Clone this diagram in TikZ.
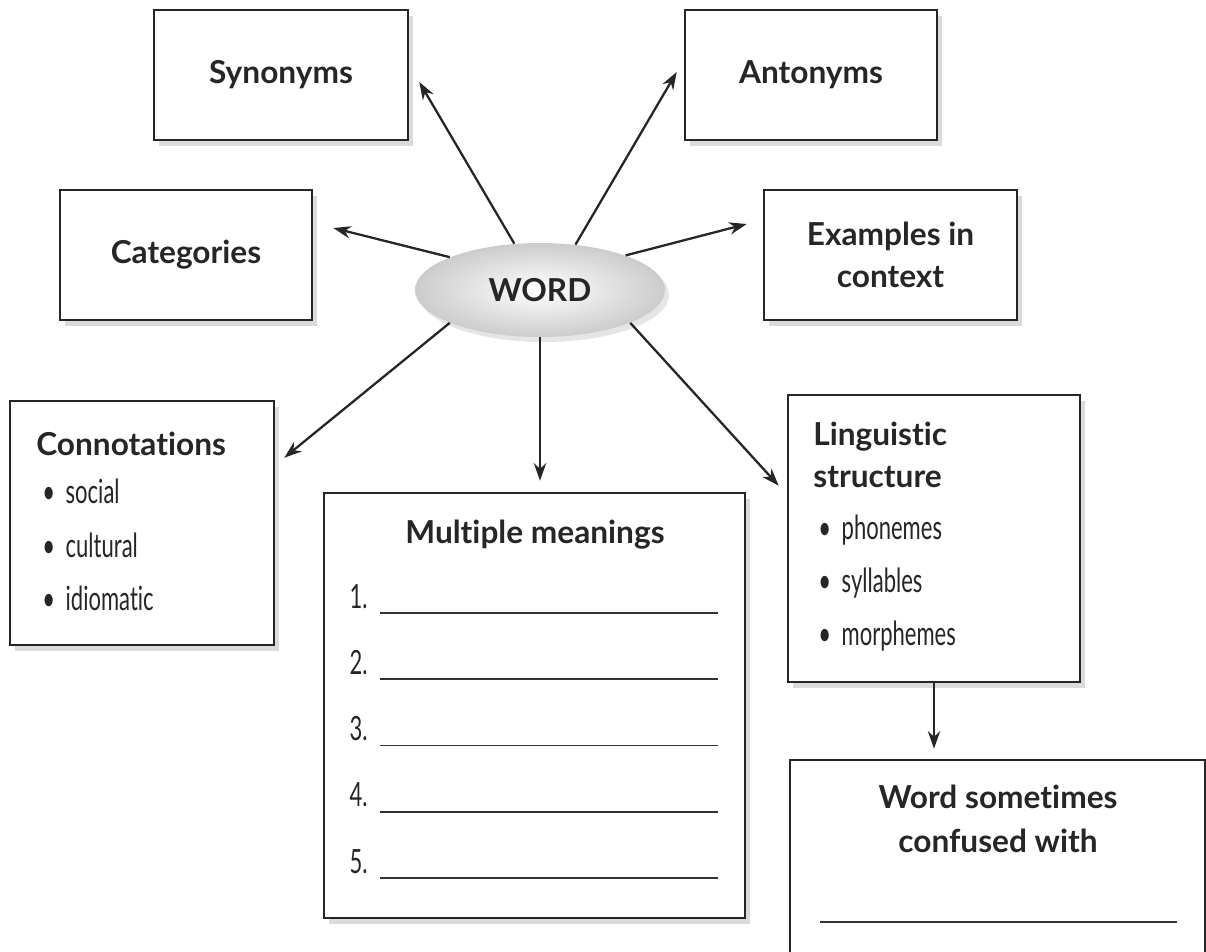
\documentclass[tikz,border=0pt]{standalone}
\usepackage{fontspec}
\setmainfont{Lato}[Ligatures={NoCommon,NoRare,NoDiscretionary}]
\newfontfamily\narrowfont[FakeStretch=0.66,Ligatures={NoCommon,NoRare,NoDiscretionary}]{Lato}
\usetikzlibrary{shapes.geometric,shadows,arrows.meta}
\tikzset{
    box/.style={draw=black!85, line width=1.5pt, fill=white,
        drop shadow={shadow xshift=.1cm, shadow yshift=-.12cm, opacity=.28}},
    head/.style={font=\bfseries\fontsize{18}{24}\selectfont, text=black!85},
    item/.style={font=\narrowfont\fontsize{19}{24}\selectfont, text=black!85,
        inner sep=0pt, anchor=base west},
    arr/.style={line width=1.3pt, draw=black!85, -{Stealth[length=10pt,width=7pt]}},
    blank/.style={line width=1pt, draw=black!80}
}

\begin{document}
\begin{tikzpicture}[x=0.02cm, y=-0.02cm]
        \path[use as bounding box, fill=white] (0,0) rectangle (1206,951);
        \clip (0,0) rectangle (1206,951);
        \node[box, head, minimum width=5.08cm, minimum height=2.6cm] (syn) at (281,75) {Synonyms};
        \node[box, head, minimum width=5.04cm, minimum height=2.6cm] (ant) at (811,75) {Antonyms};
        \node[box, head, minimum width=5.04cm, minimum height=2.6cm] (cat) at (186,255) {Categories};
        \node[box, head, align=center, minimum width=5.06cm, minimum height=2.6cm] (ex) at (890.5,255) {Examples in\\context};
        \node[head, ellipse, inner sep=0pt, minimum width=5cm, minimum height=1.88cm,
            shading=radial, inner color=white, outer color=gray!40,
            drop shadow={shadow xshift=.08cm, shadow yshift=-.1cm, opacity=.2}] (word) at (540,290) {WORD};
        \node[box, minimum width=5.28cm, minimum height=4.88cm] (con) at (142,523) {};
        \node[box, minimum width=8.42cm, minimum height=8.5cm] (mul) at (534.5,705.5) {};
        \node[box, minimum width=5.84cm, minimum height=5.74cm] (lin) at (934,538.5) {};
        \node[box, minimum width=8.3cm, minimum height=4cm] (conf) at (997.5,860) {};
        \node[head, inner sep=0pt, anchor=base west] (con-t) at (36,455) {Connotations};
        \foreach \w/\y in {social/503, cultural/557, idiomatic/610}
            \node[item] (con-\w) at (42,\y) {\textbullet\hspace{6pt}\w};
        \node[head, inner sep=0pt, anchor=base west] (lin-t1) at (813,445) {Linguistic};
        \node[head, inner sep=0pt, anchor=base west] (lin-t2) at (813,487) {structure};
        \foreach \w/\y in {phonemes/539, syllables/592, morphemes/645}
            \node[item] (lin-\w) at (818,\y) {\textbullet\hspace{6pt}\w};
        \node[head, inner sep=0pt, anchor=base] (mul-t) at (535,543) {Multiple meanings};
        \foreach \i [evaluate=\i as \y using 613+66.25*(\i-1)] in {1,...,5} {
            \node[item, anchor=base east] (num\i) at (368,\y-5) {\i.};
            \draw[blank] (380,\y) -- (718,\y);
        }
        \node[head, inner sep=0pt, anchor=base] (conf-t1) at (998,808) {Word sometimes};
        \node[head, inner sep=0pt, anchor=base] (conf-t2) at (998,852) {confused with};
        \draw[blank] (820,922) -- (1177,922);
        \draw[arr] (word.119) -- ([shift={(10,7)}]syn.east);
        \draw[arr] (word.52) -- ([shift={(-7,-3)}]ant.west);
        \draw[arr] (word.160) -- ([shift={(20,-27)}]cat.east);
        \draw[arr] (word.22) -- ([shift={(-16,-31)}]ex.west);
        \draw[arr] (word.200) -- ([shift={(9,58)}]con.north east);
        \draw[arr, shorten >=.22cm] (word.south) -- (word.south |- mul.north);
        \draw[arr] (word.340) -- ([shift={(-8,92)}]lin.north west);
        \draw[arr, shorten >=.2cm] (lin.south) -- (lin.south |- conf.north);
    \end{tikzpicture}
\end{document}
